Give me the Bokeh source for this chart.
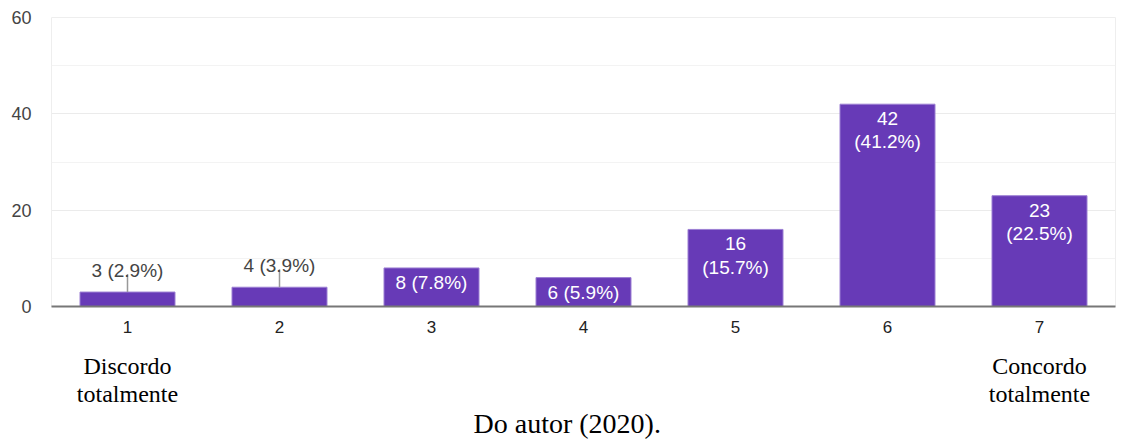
from bokeh.plotting import figure
from bokeh.models import (Range1d, SingleIntervalTicker, ColumnDataSource,
                          CategoricalAxis, FactorRange, Title)
from bokeh.core.properties import value
from bokeh.embed import file_html
from bokeh.resources import INLINE

# Likert scale answers (1 = discordo totalmente, 7 = concordo totalmente)
categories = ["1", "2", "3", "4", "5", "6", "7"]
counts = [3, 4, 8, 6, 16, 42, 23]
scale_ends = {"1": "Discordo\ntotalmente", "7": "Concordo\ntotalmente"}
source_note = "Do autor (2020)."
y_ticks_interval = 20
y_max = 60

total = sum(counts)
pcts = [round(100 * c / total, 1) for c in counts]

BAR = "#673AB7"
BAR_EDGE = "#9C7FD3"
SANS = "Liberation Sans"
SERIF = "Liberation Serif"

W, H = 1124, 441
TOP, BOTTOM, LEFT, RIGHT = 17, 135, 51, 9
frame_h = H - TOP - BOTTOM
px_per_unit = frame_h / y_max

p = figure(x_range=categories, y_range=Range1d(0, y_max), width=W, height=H,
           output_backend="svg", toolbar_location=None,
           min_border_top=TOP, min_border_bottom=BOTTOM,
           min_border_left=LEFT, min_border_right=RIGHT)
p.x_range.range_padding = 0
p.outline_line_color = "#eeeeee"
p.background_fill_color = "white"
p.border_fill_color = "white"

# grid
p.xgrid.grid_line_color = None
p.yaxis.ticker = SingleIntervalTicker(interval=y_ticks_interval, num_minor_ticks=2)
p.ygrid.grid_line_color = "#ebebeb"
p.ygrid.minor_grid_line_color = "#f3f3f3"

# axes
p.xaxis.axis_line_color = "#777777"
p.xaxis.axis_line_width = 2
p.xaxis.major_tick_line_color = None
p.xaxis.minor_tick_line_color = None
p.xaxis.major_label_standoff = 8
p.xaxis.major_label_text_font = SANS
p.xaxis.major_label_text_font_size = "17px"
p.xaxis.major_label_text_color = "#222222"

p.yaxis.axis_line_color = None
p.yaxis.major_tick_line_color = None
p.yaxis.minor_tick_line_color = None
p.yaxis.major_label_standoff = 14
p.yaxis.major_label_text_font = SANS
p.yaxis.major_label_text_font_size = "18px"
p.yaxis.major_label_text_color = "#444444"

# second row of x labels describing both ends of the scale: a parallel factor
# range whose factors are the descriptions (blank, unique ones in between)
end_factors = [scale_ends.get(c, " " * (i + 1)) for i, c in enumerate(categories)]
p.extra_x_ranges = {"ends": FactorRange(factors=end_factors, range_padding=0)}
ends_axis = CategoricalAxis(
    x_range_name="ends",
    axis_line_color=None, major_tick_line_color=None, minor_tick_line_color=None,
    major_label_standoff=11, major_label_text_font=SERIF,
    major_label_text_font_size="24px", major_label_text_color="black",
    major_label_text_line_height=1.08)
p.add_layout(ends_axis, "below")

note = Title(text=source_note, align="left", text_font=SERIF,
             text_font_size="28px", text_font_style="normal",
             text_color="black", offset=422, standoff=-8)
p.add_layout(note, "below")

# bars
src = ColumnDataSource(dict(cat=categories, count=counts))
p.vbar(x="cat", top="count", width=0.625, source=src,
       fill_color=BAR, line_color=BAR_EDGE, line_width=1)

# value labels: short bars get the label above with a leader line
leader_px = 18
label_gap_px = 4
threshold = 5
in_cat, in_y, in_txt = [], [], []
out_cat, out_y, out_txt, lead_top, out_label_y = [], [], [], [], []
for c, v, pc in zip(categories, counts, pcts):
    sep = "\n" if v >= 10 else " "
    txt = f"{v}{sep}({pc}%)"
    if v < threshold:
        out_cat.append(c)
        out_y.append(v)
        out_txt.append(txt)
        lead_top.append(v + leader_px / px_per_unit)
        out_label_y.append(v + (leader_px + label_gap_px) / px_per_unit)
    else:
        in_cat.append(c)
        in_y.append(v)
        in_txt.append(txt)

p.text(x=in_cat, y=in_y, text=in_txt, text_color="white", text_font=value(SANS),
       text_font_size="19px", text_align="center", text_baseline="top",
       text_line_height=1.1, y_offset=4)
p.segment(x0=out_cat, y0=out_y, x1=out_cat, y1=lead_top,
          line_color="#999999", line_width=1.5)
p.text(x=out_cat, y=out_label_y, text=out_txt, text_color="#444444",
       text_font=value(SANS), text_font_size="19px", text_align="center",
       text_baseline="alphabetic")

open("out.html", "w").write(file_html(p, INLINE))
